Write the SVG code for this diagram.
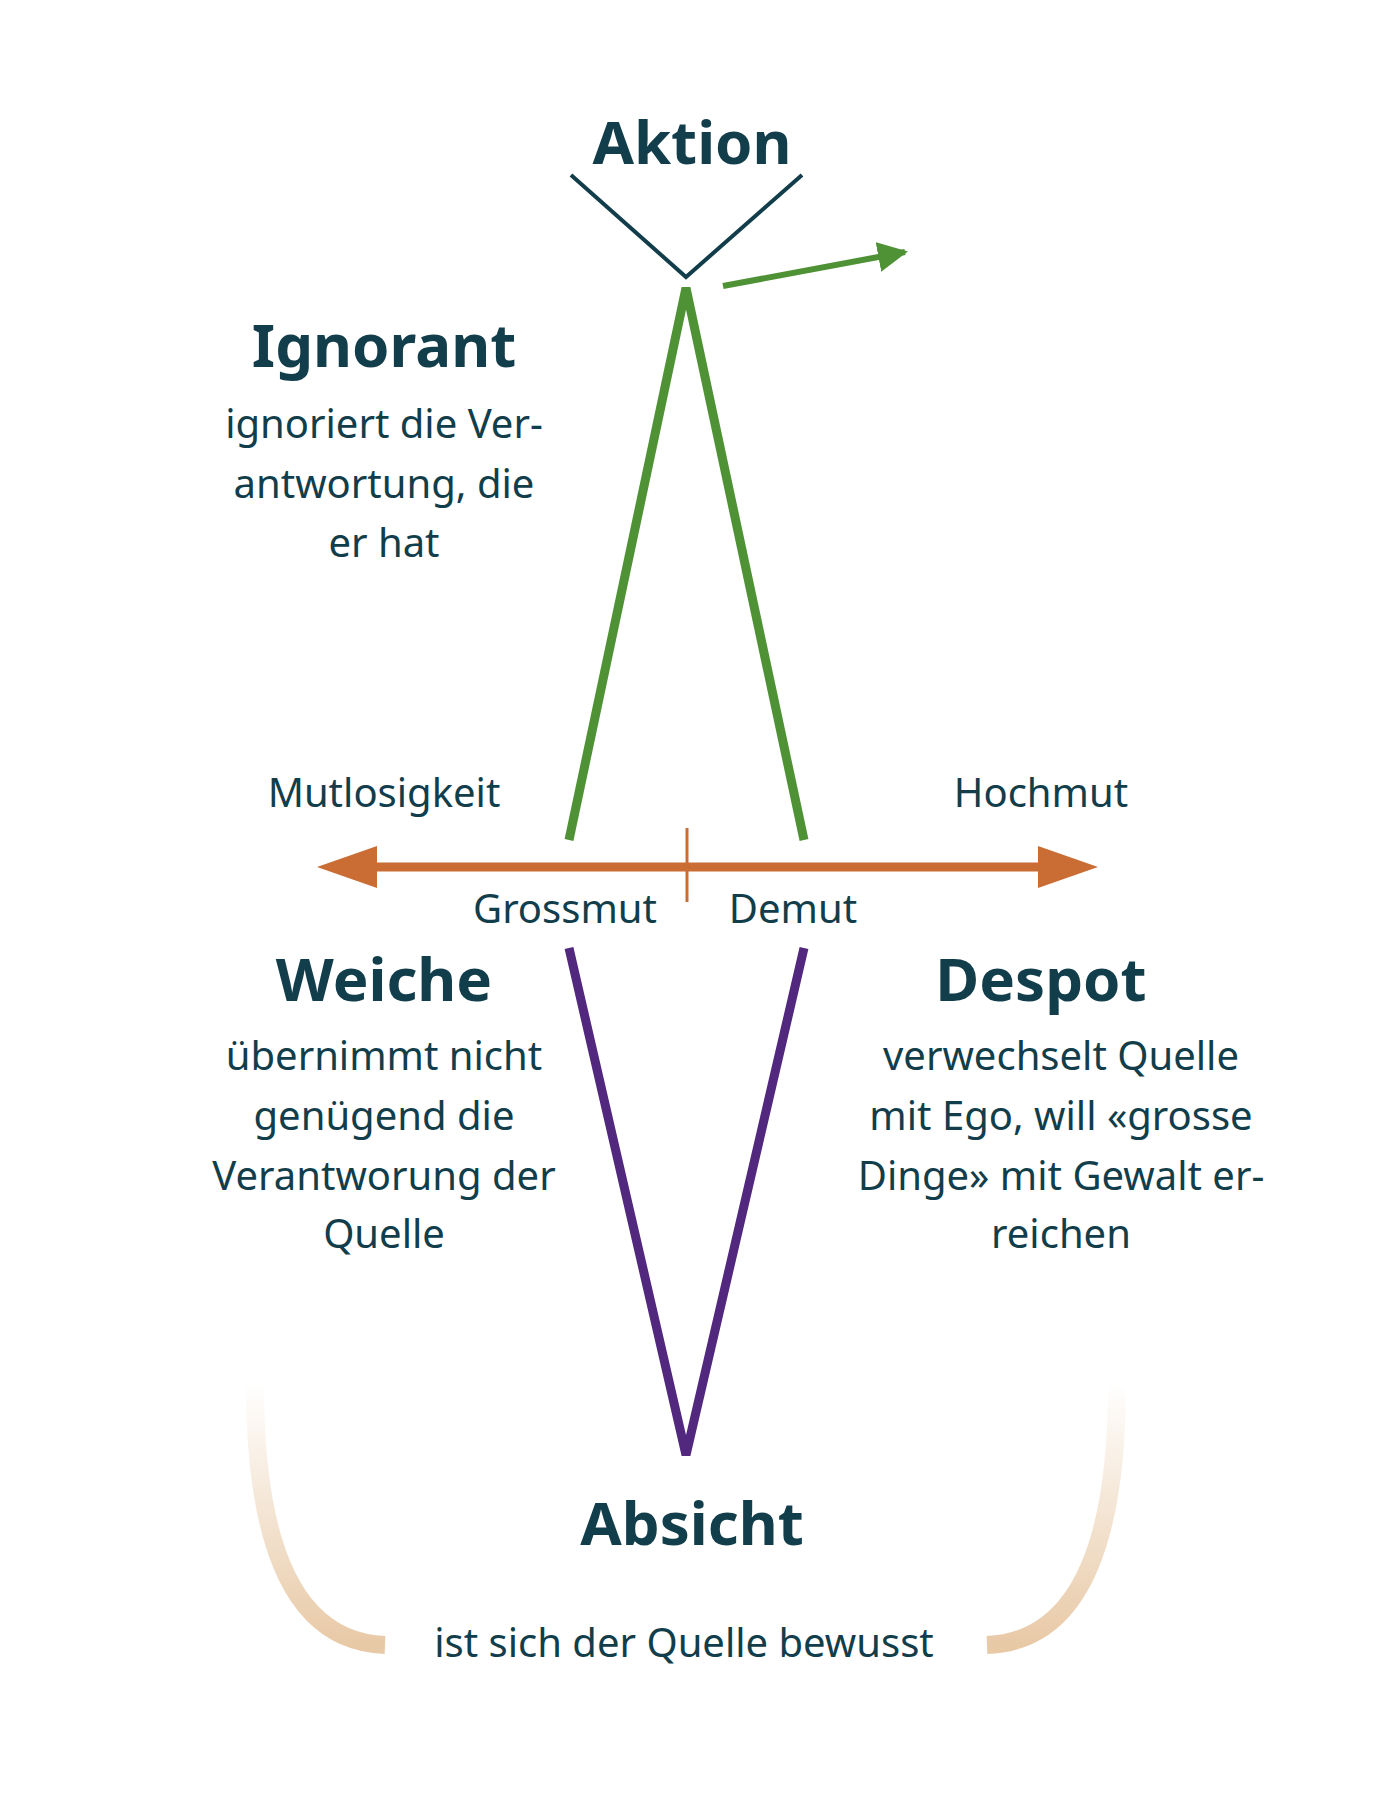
<svg xmlns="http://www.w3.org/2000/svg" width="1400" height="1805" viewBox="0 0 1400 1805">
<style>
text{font-family:"Noto Sans","Open Sans",sans-serif;fill:#123d4a;text-anchor:middle}
.h{font-weight:bold;font-size:60px}
.b{font-size:40px}
</style>
<defs>
<marker id="ga" viewBox="0 0 10 10" refX="9" refY="5" markerWidth="5" markerHeight="5" orient="auto"><path d="M0,0L10,5L0,10z" fill="#4f9236"/></marker>
<linearGradient id="fl" x1="0" y1="0" x2="0" y2="1"><stop offset="0" stop-color="#e8c9a6" stop-opacity="0"/><stop offset="1" stop-color="#e8c9a6"/></linearGradient>
</defs>
<rect width="1400" height="1805" fill="#fff"/>
<g id="brackets" fill="none" stroke="url(#fl)" stroke-width="18">
<path d="M255,1384 Q255,1640 385,1645"/>
<path d="M1117,1384 Q1117,1640 987,1645"/>
</g>
<g id="connectors">
<polyline points="571,175 686,277 802,175" fill="none" stroke="#123d4a" stroke-width="4"/>
<line x1="723" y1="286" x2="905" y2="252" stroke="#4f9236" stroke-width="6" marker-end="url(#ga)"/>
<polyline points="569,840 686,288 804,840" fill="none" stroke="#4f9236" stroke-width="9"/>
<polyline points="569,948 686,1455 804,948" fill="none" stroke="#52287e" stroke-width="9"/>
<line x1="370" y1="867" x2="1045" y2="867" stroke="#c96d34" stroke-width="9"/>
<path d="M317,867 L377,846 L377,888 Z" fill="#c96d34"/>
<path d="M1098,867 L1038,846 L1038,888 Z" fill="#c96d34"/>
<line x1="687" y1="828" x2="687" y2="902" stroke="#c96d34" stroke-width="3"/>
</g>
<g id="aktion"><text class="h" x="692" y="164">Aktion</text></g>
<g id="ignorant"><text class="h" x="384" y="367">Ignorant</text>
<text class="b" x="384" y="438">ignoriert die Ver-</text><text class="b" x="384" y="498">antwortung, die</text><text class="b" x="384" y="557">er hat</text></g>
<g id="mutlosigkeit"><text class="b" x="384" y="807">Mutlosigkeit</text></g>
<g id="hochmut"><text class="b" x="1041" y="807">Hochmut</text></g>
<g id="grossmut"><text class="b" x="565" y="923">Grossmut</text></g>
<g id="demut"><text class="b" x="793" y="923">Demut</text></g>
<g id="weiche"><text class="h" x="384" y="1001">Weiche</text>
<text class="b" x="384" y="1070">übernimmt nicht</text><text class="b" x="384" y="1130">genügend die</text><text class="b" x="384" y="1190">Verantworung der</text><text class="b" x="384" y="1248">Quelle</text></g>
<g id="despot"><text class="h" x="1041" y="1001">Despot</text>
<text class="b" x="1061" y="1070">verwechselt Quelle</text><text class="b" x="1061" y="1130">mit Ego, will «grosse</text><text class="b" x="1061" y="1190">Dinge» mit Gewalt er-</text><text class="b" x="1061" y="1248">reichen</text></g>
<g id="absicht"><text class="h" x="692" y="1545">Absicht</text>
<text class="b" x="684" y="1657">ist sich der Quelle bewusst</text></g>
</svg>
